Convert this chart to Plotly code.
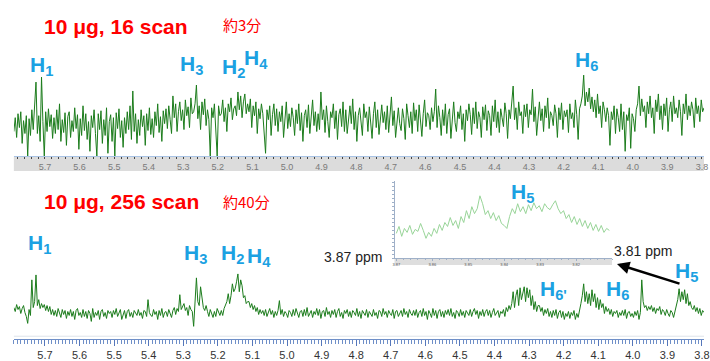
import plotly.graph_objects as go

# ---------------- data ----------------
axis_ticks = [5.7, 5.6, 5.5, 5.4, 5.3, 5.2, 5.1, 5.0, 4.9, 4.8, 4.7, 4.6, 4.5, 4.4, 4.3, 4.2, 4.1, 4.0, 3.9, 3.8]
axis_labels = ["5.7", "5.6", "5.5", "5.4", "5.3", "5.2", "5.1", "5.0", "4.9", "4.8", "4.7", "4.6", "4.5", "4.4", "4.3", "4.2", "4.1", "4.0", "3.9", "3.8"]
inset_ticks = [3.87, 3.86, 3.85, 3.84, 3.83, 3.82]
inset_labels = ["3.87", "3.86", "3.85", "3.84", "3.83", "3.82"]

# 16 scan spectrum intensity (arbitrary units), 500 points from 5.79 ppm to 3.794 ppm
scan16 = [
    -8, 6, -14, 10, -4, 12, -20, 3, -10, 8,
    -33, 5, -12, 14, -6, 18, 42, -10, 8, -18,
    47, 2, -33, 12, -8, 15, -3, 9, -15, 6,
    -10, 14, -6, 20, -18, 4, -9, 11, -22, 7,
    12, -14, 3, -8, 16, -5, 9, -26, 5, -12,
    18, -7, 10, -16, 2, -28, 8, -4, 14, -10,
    -33, 10, -6, 13, -20, 4, -12, 16, -30, 2,
    9, -18, 6, -33, 11, -5, 15, -14, 3, -24,
    6, -10, 12, -6, 18, -16, 33, -8, 10, -20,
    4, -12, 14, -3, 8, -22, 10, -7, 16, -11,
    5, -14, 12, -2, 20, -9, 7, -18, 13, 0,
    15, -5, 18, 4, -10, 28, 6, 20, -8, 12,
    22, 3, 14, -6, 24, 8, 17, -4, 26, 10,
    12, 20, 39, 5, 18, -6, 22, 9, 25, -2,
    14, 4, -33, 16, 6, 20, -2, -33, 18, 8,
    10, 24, 2, 16, -8, 20, 12, 26, 4, 15,
    18, 8, 32, 14, 28, 6, 22, 30, 10, 20,
    12, 25, -4, 18, 8, 22, -10, 15, 5, 20,
    10, -6, -30, 14, 4, 18, -12, 9, 20, -2,
    15, -8, 12, 2, 18, -14, 8, 22, -5, 10,
    -3, 16, 6, -12, 14, 0, 20, -7, 11, -18,
    8, 14, -4, 19, -10, 6, 24, -2, 12, -8,
    10, -6, 32, 4, 14, -9, 18, 2, -14, 12,
    6, 20, -5, 13, -16, 9, 15, -3, 22, -8,
    14, -10, 7, 18, 0, 25, -6, 12, -18, 8,
    16, 2, -12, 20, 6, 12, -8, 17, 4, -15,
    10, 22, -4, 14, -11, 8, 19, 1, 12, -6,
    18, -9, 9, 27, -2, 13, -14, 6, 16, 0,
    -7, 15, 5, -16, 20, 8, -4, 12, -10, 21,
    3, 14, -8, 19, 6, -13, 10, 24, -3, 11,
    8, -6, 16, 2, 12, 35, -4, 18, 6, -12,
    14, -2, 20, -10, 9, 15, -15, 7, 22, 1,
    -8, 12, 5, 18, -6, 10, -18, 14, 3, 20,
    9, -11, 16, 0, 22, -5, 12, 6, -14, 17,
    4, 19, -7, 13, 8, -12, 18, 2, 24, -4,
    12, -9, 15, 6, -3, 21, 10, -15, 14, 5,
    18, 38, 4, 16, -6, 22, 8, 12, -10, 19,
    7, 20, -4, 14, 9, 35, 2, 17, -12, 10,
    22, 3, 15, -8, 18, 6, 26, -5, 12, 8,
    -2, 19, 10, -14, 16, 4, 21, -6, 13, 7,
    14, -9, 20, 5, 11, -4, 24, 9, -16, 15,
    20, 28, 49, 18, 32, 22, 36, 15, 27, 12,
    24, 6, 30, 10, 18, -4, 22, 14, 2, 16,
    8, -22, 12, 4, 18, -10, 15, 6, -8, 20,
    -6, 12, -28, 9, 3, 16, -25, 10, 5, -8,
    14, 20, 38, 8, 25, 12, 18, -4, 22, 10,
    28, 6, 16, -10, 24, 12, 30, 4, 18, -6,
    20, 8, 26, -8, 14, 22, 2, 28, 10, 16,
    6, 24, 12, -12, 20, 10, 30, 4, 18, 8,
    22, 14, -4, 26, 10, 18, 2, 24, 12, 16,
]

# 256 scan spectrum intensity, same ppm grid
scan256 = [
    6, 2, 9, 4, 7, 0, 5, 8, 1, -3,
    -10, 4, -2, 34, 6, 12, 39, 8, 14, 5,
    10, 6, 9, 3, 8, 2, 7, -1, 4, -2,
    3, -3, 5, 0, -4, 4, -1, 3, -5, 2,
    -2, 4, -3, 2, -6, 3, 5, -2, 1, -4,
    4, -3, 2, -5, 3, 0, -8, 5, -4, 1,
    -2, 3, -6, 2, 4, -3, 1, -5, 3, 0,
    2, -4, 3, -1, 5, -3, 0, 4, -6, -2,
    3, -5, 2, 4, -3, 1, -4, 3, 0, -2,
    4, -2, 1, -5, 3, 2, -3, 14, 1, -2,
    -3, 4, -1, 2, -6, 3, -2, 5, -4, 1,
    2, -3, 4, 0, -4, 3, 6, -1, 5, 2,
    19, 4, 8, 10, 3, 6, -2, 8, 4, 2,
    -13, 10, 36, 12, 8, 27, 15, 6, 3, 8,
    2, -3, 4, 0, -4, 2, -3, 5, 1, -2,
    3, -2, 5, 8, 12, 20, 10, 18, 30, 22,
    25, 32, 40, 22, 34, 28, 16, 18, 10, 12,
    12, 6, 10, 4, 8, 2, 6, -1, 4, 0,
    3, -2, 4, -3, 2, 5, -1, 3, -4, 2,
    -2, 3, 13, -1, 4, -3, 2, 0, -4, 3,
    1, -3, 4, -2, 5, 0, -4, 2, 3, -3,
    4, -2, 6, -3, 1, 3, -4, 2, -1, 5,
    -2, 4, -5, 2, 3, -3, 6, -1, 2, -4,
    3, -1, 4, -4, 2, 5, -3, 1, -5, 3,
    0, 4, -3, 2, -4, 3, 1, -2, 5, -3,
    2, -5, 3, 1, -2, 4, -4, 2, 0, -3,
    4, -2, 1, -5, 3, 2, -3, 5, -1, 2,
    -4, 3, 0, -2, 4, -5, 2, 3, -3, 1,
    3, -3, 5, -1, 2, -4, 4, 0, -2, 3,
    -2, 4, -4, 1, 3, -3, 5, -2, 2, -6,
    3, 0, -4, 5, -2, 3, -5, 2, 4, -3,
    2, -4, 3, -1, 4, -2, 5, -3, 1, -5,
    3, 1, -3, 4, -2, 2, -4, 3, 0, -2,
    4, -3, 2, 5, -1, 3, -5, 2, -2, 4,
    -3, 2, 4, -2, 3, -4, 1, 5, -2, 0,
    3, -4, 2, 0, 4, -3, 6, 2, 8, 4,
    10, 22, 6, 18, 24, 8, 26, 14, 20, 27,
    12, 26, 16, 24, 8, 18, 4, 12, 2, 8,
    8, 2, 6, -2, 4, 0, 5, -3, 2, -4,
    3, -2, 4, -5, 1, 3, -4, 2, -6, 0,
    -3, 2, -5, 1, -2, 3, -6, 0, -4, 2,
    10, 18, 30, 12, 22, 10, 20, 8, 24, 12,
    20, 6, 16, 4, 14, 6, 10, 0, 7, 2,
    5, -1, 4, -3, 2, 0, 3, -4, 1, -2,
    3, -2, 4, -5, 1, 2, -3, 0, -4, 2,
    -2, 3, -6, 1, 34, 12, 6, 8, 3, 7,
    4, 8, 2, 6, 0, 5, 3, 7, -1, 4,
    2, -2, 4, 0, -3, 3, 1, -4, 2, 6,
    14, 25, 12, 22, 14, 24, 10, 20, 8, 12,
    6, 4, 8, 2, 6, 0, 5, -2, 3, 1,
]

# expanded H5 region (3.87 -> 3.81 ppm), 80 points
inset_h5 = [
    25, 32, 22, 30, 26, 33, 24, 29, 27, 35,
    28, 20, 26, 22, 30, 25, 34, 28, 36, 32,
    41, 33, 38, 30, 42, 36, 48, 40, 52, 45,
    50, 63, 55, 44, 48, 40, 46, 38, 43, 35,
    33, 30, 42, 50, 45, 55, 47, 52, 45, 54,
    48, 56, 50, 53, 47, 55, 51, 49, 54, 58,
    50, 45, 48, 40, 44, 36, 42, 34, 40, 32,
    38, 30, 36, 28, 34, 27, 33, 26, 30, 28,
]

top_peak_labels = ["H<sub>1</sub>", "H<sub>3</sub>", "H<sub>2</sub>", "H<sub>4</sub>", "H<sub>6</sub>"]
bottom_peak_labels = ["H<sub>1</sub>", "H<sub>3</sub>", "H<sub>2</sub>", "H<sub>4</sub>", "H<sub>5</sub>", "H<sub>6'</sub>", "H<sub>6</sub>", "H<sub>5</sub>"]

# ---------------- layout helpers ----------------
W, H = 710, 361
def px(x):
    return x / W
def py(y):
    return 1 - y / H

GREEN = "#1c7c1c"
BLUE = "#1ba1e2"
RED = "#ff0000"
FONT = "Liberation Sans, Arial, sans-serif"

fig = go.Figure()
fig.add_trace(go.Scatter(y=scan16, x0=5.79, dx=-0.004, mode="lines",
                         line=dict(color=GREEN, width=1), xaxis="x", yaxis="y", hoverinfo="skip"))
fig.add_trace(go.Scatter(y=scan256, x0=5.79, dx=-0.004, mode="lines",
                         line=dict(color=GREEN, width=1), xaxis="x2", yaxis="y2", hoverinfo="skip"))
fig.add_trace(go.Scatter(y=inset_h5, x0=3.87, dx=-0.00075, mode="lines",
                         line=dict(color="#98d498", width=1), xaxis="x3", yaxis="y3", hoverinfo="skip"))

common_x = dict(range=[5.79, 3.794], tickvals=axis_ticks, ticktext=axis_labels,
                showgrid=False, zeroline=False, fixedrange=True, ticklabeloverflow="allow")

shapes = [
    dict(type="rect", xref="paper", yref="paper", x0=px(12), x1=1, y0=py(173), y1=py(158),
         fillcolor="#dcdcdc", line=dict(width=0), layer="below"),
    dict(type="line", xref="paper", yref="paper", x0=px(12), x1=1, y0=py(340), y1=py(340),
         line=dict(color="#dde3ea", width=1)),
    dict(type="rect", xref="paper", yref="paper", x0=px(397), x1=px(617), y0=py(268), y1=py(261),
         fillcolor="#dedede", line=dict(width=0), layer="below"),
]

fig.update_layout(
    width=W, height=H, margin=dict(l=0, r=0, t=0, b=0),
    paper_bgcolor="white", plot_bgcolor="rgba(0,0,0,0)", showlegend=False,
    font=dict(family=FONT),
    xaxis=dict(domain=[px(12), 1], anchor="y", showline=True, linecolor="#a9c4e6", linewidth=1,
               ticks="outside", ticklen=2, tickcolor="#444",
               minor=dict(dtick=0.02, ticks="outside", ticklen=2, tickcolor="#444"),
               tickfont=dict(size=9, color="#7a7a7a", family=FONT), **common_x),
    yaxis=dict(domain=[py(158), py(72)], range=[-33, 53], visible=False, fixedrange=True),
    xaxis2=dict(domain=[px(12), 1], anchor="free", position=py(343), showline=True,
                linecolor="#6f8fc8", linewidth=1, ticks="outside", ticklen=6, tickcolor="#5577bb",
                minor=dict(dtick=0.01, ticks="outside", ticklen=4, tickcolor="#6f8fc8"),
                tickfont=dict(size=11, color="#333", family=FONT), **common_x),
    yaxis2=dict(domain=[py(337), py(265)], range=[-20, 52], visible=False, fixedrange=True),
    xaxis3=dict(domain=[px(397), px(617)], anchor="y3", range=[3.8705, 3.81],
                tickvals=inset_ticks, ticktext=inset_labels, showgrid=False, zeroline=False,
                showline=True, linecolor="#9fb0c8", linewidth=1, ticks="outside", ticklen=2,
                tickcolor="#9fb0c8", minor=dict(dtick=0.002, ticks="outside", ticklen=1, tickcolor="#9fb0c8"),
                tickfont=dict(size=4, color="#555"), fixedrange=True),
    yaxis3=dict(domain=[py(261), py(183)], anchor="x3", range=[0, 78], showgrid=False, zeroline=False,
                showline=True, linecolor="#9fb0c8", linewidth=1, ticks="outside", ticklen=2,
                tickcolor="#9fb0c8", dtick=4, showticklabels=False, fixedrange=True),
    shapes=shapes,
)

ann = []
def label(text, x, y, size=21, color=BLUE, bold=True, xanchor="left", yanchor="top", family=FONT):
    t = f"<b>{text}</b>" if bold else text
    ann.append(dict(text=t, xref="paper", yref="paper", x=px(x), y=py(y), xanchor=xanchor,
                    yanchor=yanchor, showarrow=False, font=dict(size=size, color=color, family=family)))

label("10 μg, 16 scan", 40, 13, size=21, color=RED)
label("約3分", 221, 25, size=15, color=RED, bold=False, yanchor="middle", family="Noto Sans CJK JP")
label("10 μg, 256 scan", 40, 190, size=21, color=RED)
label("約40分", 221, 204, size=15, color=RED, bold=False, yanchor="middle", family="Noto Sans CJK JP")

top_pos = [(26, 52), (178, 51), (220, 54), (243, 44), (578, 47)]
for t, (x, y) in zip(top_peak_labels, top_pos):
    label(t, x, y)
bot_pos = [(24, 232), (182, 242), (219, 242), (246, 245), (513, 180), (542, 278), (609, 278), (679, 260)]
for t, (x, y) in zip(bottom_peak_labels, bot_pos):
    label(t, x, y)

label("3.87 ppm", 355, 260, size=14, color="#222", bold=False, xanchor="center", yanchor="middle")
label("3.81 ppm", 648, 254, size=14, color="#222", bold=False, xanchor="center", yanchor="middle")

ann.append(dict(text="", xref="paper", yref="paper", x=px(622), y=py(267), ax=64, ay=20,
                axref="pixel", ayref="pixel", showarrow=True, arrowhead=2, arrowsize=1,
                arrowwidth=2.5, arrowcolor="#000"))

fig.update_layout(annotations=ann)
fig.write_html("out.html")
